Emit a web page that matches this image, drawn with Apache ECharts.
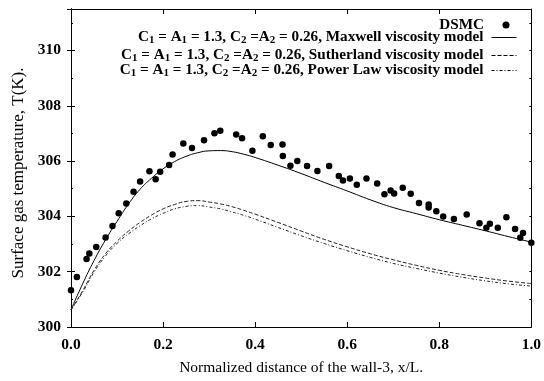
<!DOCTYPE html>
<html>
<head>
<meta charset="utf-8">
<script src="https://cdn.jsdelivr.net/npm/echarts@6/dist/echarts.min.js"></script>
<style>html,body{margin:0;padding:0;background:#fff}#c{width:544px;height:381px}</style>
</head>
<body>
<div id="c"></div>
<script>
// DSMC points
const dsmcX = [0.0, 0.0128, 0.0338, 0.0398, 0.0548, 0.0751, 0.0901, 0.1036, 0.1201, 0.1359,
  0.1502, 0.1704, 0.1839, 0.1937, 0.2132, 0.2207, 0.2440, 0.2628, 0.2890, 0.3116,
  0.3243, 0.3589, 0.3716, 0.3941, 0.4167, 0.4339, 0.4595, 0.4602, 0.4767, 0.4917,
  0.5128, 0.5353, 0.5608, 0.5818, 0.5908, 0.6059, 0.6209, 0.6419, 0.6652, 0.6809,
  0.6944, 0.7020, 0.7207, 0.7380, 0.7560, 0.7770, 0.7770, 0.7936, 0.8086, 0.8318,
  0.8596, 0.8874, 0.9024, 0.9099, 0.9272, 0.9459, 0.9647, 0.9760, 0.9820, 1.0];
const dsmcT = [301.33, 301.81, 302.46, 302.66, 302.89, 303.24, 303.65, 304.11, 304.47, 304.89,
  305.26, 305.63, 305.34, 305.61, 305.86, 306.24, 306.64, 306.47, 306.75, 307.01,
  307.10, 306.96, 306.83, 306.37, 306.90, 306.58, 306.60, 306.18, 305.83, 306.00,
  305.82, 305.64, 305.82, 305.46, 305.30, 305.37, 305.14, 305.37, 305.19, 304.80,
  304.94, 304.83, 305.04, 304.82, 304.48, 304.43, 304.32, 304.19, 304.00, 303.91,
  304.07, 303.75, 303.59, 303.73, 303.59, 303.97, 303.54, 303.23, 303.40, 303.05];

// model curves (shared x positions)
const curveX = [0, 0.025, 0.05, 0.075, 0.1, 0.125, 0.15, 0.175, 0.2, 0.225, 0.25, 0.275, 0.3, 0.325,
  0.35, 0.375, 0.4, 0.45, 0.5, 0.55, 0.6, 0.65, 0.7, 0.75, 0.8, 0.85, 0.9, 0.95, 1.0];
const maxwellT = [300.62, 301.55, 302.4, 303.15, 303.82, 304.45, 304.98, 305.38, 305.72, 305.98, 306.17, 306.3, 306.37, 306.38,
  306.34, 306.25, 306.13, 305.85, 305.55, 305.23, 304.92, 304.6, 304.32, 304.1, 303.88, 303.68, 303.48, 303.27, 303.07];
const sutherlandT = [300.62, 301.3, 302.05, 302.65, 303.1, 303.47, 303.78, 304.05, 304.27, 304.43, 304.54, 304.57, 304.52, 304.45,
  304.35, 304.22, 304.08, 303.78, 303.47, 303.17, 302.9, 302.65, 302.43, 302.23, 302.05, 301.9, 301.77, 301.66, 301.57];
const powerLawT = [300.62, 301.25, 301.98, 302.57, 303.02, 303.37, 303.66, 303.91, 304.11, 304.27, 304.36, 304.39, 304.34, 304.27,
  304.16, 304.04, 303.9, 303.6, 303.3, 303.02, 302.76, 302.52, 302.3, 302.12, 301.95, 301.8, 301.67, 301.56, 301.48];

const xTicks = ['0.0', '0.2', '0.4', '0.6', '0.8', '1.0'];
const yTicks = [300, 302, 304, 306, 308, 310];

const modelNames = ['Maxwell', 'Sutherland', 'Power Law'];

const FONT = 'Liberation Serif';
const pair = (xs, ys) => xs.map((x, i) => [x, ys[i]]);

function modelLabel(model) {
  return '{t|C}{s|1}{t| = A}{s|1}{t| = 1.3, C}{s|2}{t| =A}{s|2}{t| = 0.26, ' + model + ' viscosity model}';
}
const rich = {
  t: { fontFamily: FONT, fontWeight: 'bold', fontSize: 15.2, lineHeight: 16, color: '#000' },
  s: { fontFamily: FONT, fontWeight: 'bold', fontSize: 11, lineHeight: 2, verticalAlign: 'bottom', color: '#000' }
};

function legend(name, top, label, dash, opts) {
  return Object.assign({
    data: [name], orient: 'vertical', right: 27, top: top, align: 'right',
    itemWidth: 25, itemHeight: 10, itemGap: 0, selectedMode: false, padding: 0,
    formatter: () => label,
    itemStyle: { opacity: 0 },
    lineStyle: { color: '#000', width: 1, type: dash },
    textStyle: { rich: rich, padding: [0, 3, 0, 0] }
  }, opts || {});
}

const chart = echarts.init(document.getElementById('c'), null, { renderer: 'canvas' });

const axisLineStyle = { lineStyle: { color: '#000', width: 1 } };
function yAx(pos, interval, len, labels, extra) {
  return Object.assign({
    type: 'value', min: 300, max: 311.5, interval: interval, position: pos,
    axisLine: { show: true, lineStyle: { color: '#000', width: 1 } },
    axisTick: { show: true, inside: true, length: len, lineStyle: { color: '#000' } },
    axisLabel: labels ? {
      show: true, margin: 10, color: '#000', fontFamily: FONT, fontWeight: 'bold', fontSize: 15.5,
      showMaxLabel: false,
      formatter: v => (yTicks.indexOf(v) >= 0 ? String(v) : '')
    } : { show: false },
    splitLine: { show: false }
  }, extra || {});
}

const dashS = [4, 2];
const dashP = [3, 2, 1, 2];

chart.setOption({
  animation: false,
  backgroundColor: '#fff',
  grid: { left: 71, right: 9, top: 9, bottom: 50 },
  legend: [
    legend('DSMC', 17.5, '{t|DSMC}', 'solid', {
      right: 34.5, itemWidth: 7, itemHeight: 7,
      itemStyle: { color: '#000', opacity: 1 },
      textStyle: { rich: rich, padding: [0, 13.5, 0, 0] }
    }),
    legend('Maxwell', 30, modelLabel(modelNames[0]), 'solid'),
    legend('Sutherland', 48, modelLabel(modelNames[1]), dashS),
    legend('Power', 63, modelLabel(modelNames[2]), dashP)
  ],
  xAxis: [
    {
      type: 'value', min: 0, max: 1, interval: 0.2, position: 'bottom',
      axisLine: axisLineStyle,
      axisTick: { show: true, inside: true, length: 5, lineStyle: { color: '#000' } },
      axisLabel: { margin: 10, color: '#000', fontFamily: FONT, fontWeight: 'bold', fontSize: 15.5,
        formatter: v => xTicks[Math.round(v / 0.2)] },
      splitLine: { show: false },
      name: 'Normalized distance of the wall-3, x/L.', nameLocation: 'middle', nameGap: 33,
      nameTextStyle: { color: '#000', fontFamily: FONT, fontSize: 15.5 }
    },
    {
      type: 'value', min: 0, max: 1, interval: 0.2, position: 'top',
      axisLine: axisLineStyle,
      axisTick: { show: true, inside: true, length: 5, lineStyle: { color: '#000' } },
      axisLabel: { show: false }, splitLine: { show: false }
    }
  ],
  yAxis: [
    yAx('left', 2, 4, true, {
      name: 'Surface gas temperature, T(K).', nameLocation: 'middle', nameGap: 40,
      nameTextStyle: { color: '#000', fontFamily: FONT, fontSize: 17, padding: [0, 10, 0, 0] }
    }),
    yAx('right', 2, 4, false),
    yAx('left', 1, 2, false),
    yAx('right', 1, 2, false)
  ],
  series: [
    { name: 'DSMC', type: 'scatter', data: pair(dsmcX, dsmcT), symbol: 'circle', symbolSize: 6.5,
      itemStyle: { color: '#000', opacity: 1 }, z: 5 },
    { name: 'Maxwell', type: 'line', data: pair(curveX, maxwellT), smooth: true, showSymbol: false, symbol: 'none',
      color: '#000', lineStyle: { color: '#000', width: 1 } },
    { name: 'Sutherland', type: 'line', data: pair(curveX, sutherlandT), smooth: true, showSymbol: false, symbol: 'none',
      color: '#000', lineStyle: { color: '#222', width: 1, type: dashS } },
    { name: 'Power', type: 'line', data: pair(curveX, powerLawT), smooth: true, showSymbol: false, symbol: 'none',
      color: '#000', lineStyle: { color: '#222', width: 1, type: dashP } }
  ]
});
</script>
</body>
</html>
